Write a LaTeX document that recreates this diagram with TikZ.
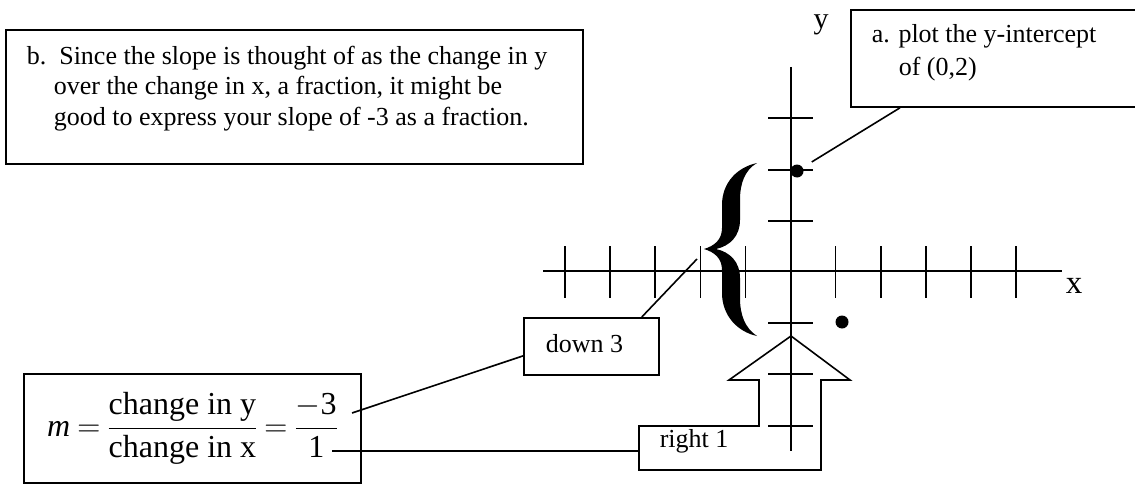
\documentclass[tikz,border=0pt]{standalone}
\usepackage{fix-cm}
\usepackage{fontspec}
\setmainfont{Liberation Serif}

\tikzset{
  box/.style={draw, line width=1.8pt, inner sep=0pt},
  lbl/.style={anchor=base west, inner sep=0pt, font=\fontsize{26}{30}\selectfont},
  dot/.style={circle, fill, inner sep=0pt, minimum size=13pt},
}

\begin{document}
\begin{tikzpicture}[x=1pt,y=-1pt,line width=1.6pt]
\useasboundingbox (0,0) rectangle (1135,487);

% note b
\node[box, minimum width=577pt, minimum height=134pt, anchor=north west] (boxb) at (5,29) {};
\node[lbl] (bline1) at (26,65) {b.\hspace{13pt}Since the slope is thought of as the change in y};
\node[lbl] (bline2) at (53,94) {over the change in x, a fraction, it might be};
\node[lbl] (bline3) at (53,125) {good to express your slope of -3 as a fraction.};

% note a
\node[box, minimum width=295pt, minimum height=97pt, anchor=north west] (boxa) at (850,9) {};
\node[lbl] (aline1) at (871,43) {a. plot the y-intercept};
\node[lbl] (aline2) at (898,76) {of (0,2)};

% axes
\draw (543,271) -- (1062,271);
\draw (791,67) -- (791,451);
\node[anchor=base, inner sep=0pt, font=\fontsize{30}{30}\selectfont] (ylab) at (821,28.5) {y};
\node[anchor=base, inner sep=0pt, font=\fontsize{33}{33}\selectfont] (xlab) at (1074,293) {x};

% ticks
\foreach \i in {0,1,2,3,4,6,7,8,9,10}
  \draw ({565+45.1*\i},246) -- ({565+45.1*\i},298);
\foreach \j in {118,170,221,323,374,426}
  \draw (768,\j) -- (813,\j);

% points
\node[dot] (yint) at (797,171) {};
\node[dot] (nextpt) at (842,322) {};

% brace for down 3
\fill (757,163) .. controls (738,167) and (722,182) .. (722,205)
  -- (722,228) .. controls (722,240) and (714,246) .. (704,249)
  .. controls (714,252) and (722,258) .. (722,270)
  -- (722,293) .. controls (722,316) and (738,332) .. (757,336)
  .. controls (745,328) and (740,315) .. (740,298)
  -- (740,278) .. controls (740,262) and (730,252) .. (716,249)
  .. controls (730,246) and (740,236) .. (740,220)
  -- (740,200) .. controls (740,183) and (745,170) .. (757,163) -- cycle;
\coordinate (bracetip) at (697,259);

% down 3 label
\node[box, minimum width=135pt, minimum height=57pt, anchor=north west] (downbox) at (523,317) {};
\node[lbl] (downtxt) at (545,352) {down 3};

% right 1 arrow callout
\draw (639,426) -- (759,426) -- (759,380) -- (729,380) -- (791,336)
  -- (850,380) -- (821,380) -- (821,470) -- (639,470) -- cycle;
\coordinate (rwest) at (639,451);
\node[lbl] (righttxt) at (659,447) {right 1};

% slope formula
\node[box, minimum width=337pt, minimum height=109pt, font=\fontsize{32}{38}\selectfont] (slope) at (192.5,428.5)
  {\thickmuskip=4mu $\displaystyle \textit{m} = \frac{\mbox{change in y}}{\mbox{change in x}} = \frac{\mbox{$-$3}}{\mbox{1}}$};
\coordinate (numend) at (352,413);
\coordinate (denend) at (332,451);

% connectors
\draw (numend) -- ([yshift=-9.5pt]downbox.west);
\draw (denend) -- (rwest);
\draw ([xshift=-18pt]downbox.north east) -- (bracetip);
\draw[shorten <=10pt] (yint) -- ([xshift=50pt]boxa.south west);
\end{tikzpicture}
\end{document}
